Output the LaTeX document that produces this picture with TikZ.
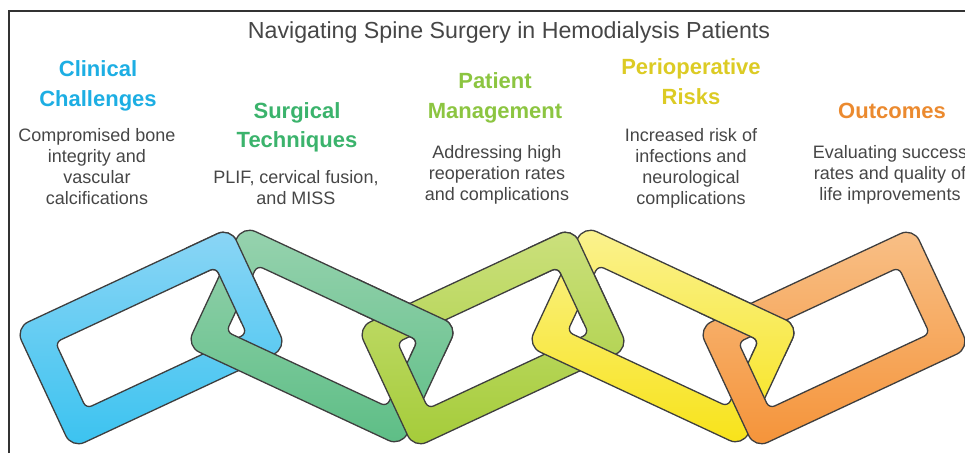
\documentclass[tikz,border=0pt]{standalone}
\usepackage{fontspec}
\setmainfont{Liberation Sans}
\definecolor{blueT}{HTML}{8AD5F5}\definecolor{blueB}{HTML}{3CC3F0}
\definecolor{greenT}{HTML}{96D2AE}\definecolor{greenB}{HTML}{5EBE86}
\definecolor{limeT}{HTML}{CBE07C}\definecolor{limeB}{HTML}{A5CC3A}
\definecolor{yelT}{HTML}{FAF28E}\definecolor{yelB}{HTML}{F8E31A}
\definecolor{orT}{HTML}{F8BF86}\definecolor{orB}{HTML}{F5943A}
\definecolor{hBlue}{HTML}{1DAEE3}\definecolor{hGreen}{HTML}{3BB36C}
\definecolor{hLime}{HTML}{8CC541}\definecolor{hYel}{HTML}{DCCB24}
\definecolor{hOr}{HTML}{EB8A2F}
\definecolor{ringgray}{HTML}{3E3E3E}\definecolor{bodygray}{HTML}{464646}
\definecolor{framegray}{HTML}{333333}
\tikzset{
  ringline/.style={draw=ringgray, line width=1.3pt},
  titletext/.style={font=\fontsize{23.2}{28}\selectfont, text=bodygray, anchor=base},
  headtext/.style={font=\bfseries\fontsize{22}{29.5}\selectfont, align=center, anchor=base},
  bodytext/.style={font=\fontsize{18}{20.8}\selectfont, text=bodygray, align=center, anchor=base},
  framestyle/.style={draw=framegray, line width=1.4pt}
}
\newcommand\drawlink[5]{%
  \begin{scope}[shift={(#1,#2)},rotate=#3,even odd rule,rounded corners=14pt]
    \clip (-118.5,-66.5) rectangle (118.5,66.5) [rounded corners=6pt] (-88.5,-36.5) rectangle (88.5,36.5);
    \shade[reset cm,top color=#4,bottom color=#5] (#1-131,#2-106) rectangle (#1+131,#2+106);
  \end{scope}
  \begin{scope}[shift={(#1,#2)},rotate=#3,rounded corners=14pt]
  \draw[ringline] (-118.5,-66.5) rectangle (118.5,66.5) [rounded corners=6pt] (-88.5,-36.5) rectangle (88.5,36.5);
  \end{scope}
}
\begin{document}
\begin{tikzpicture}[x=1pt,y=-1pt]
\useasboundingbox (0,0) rectangle (965,453);
% frame
\draw[framestyle] (9,453) -- (9,11) -- (965,11);
% chain links
\drawlink{151}{338}{25}{blueT}{blueB}
\drawlink{322}{336}{-25}{greenT}{greenB}
\drawlink{493}{338}{25}{limeT}{limeB}
\drawlink{663}{336}{-25}{yelT}{yelB}
\drawlink{834}{338}{25}{orT}{orB}
% left link on top at upper crossings
\begin{scope}\clip (186,200) rectangle (301,322);\drawlink{151}{338}{25}{blueT}{blueB}\end{scope}
\begin{scope}\clip (357,200) rectangle (472,355);\drawlink{322}{336}{-25}{greenT}{greenB}\end{scope}
\begin{scope}\clip (528,200) rectangle (643,322);\drawlink{493}{338}{25}{limeT}{limeB}\end{scope}
\begin{scope}\clip (698,200) rectangle (813,355);\drawlink{663}{336}{-25}{yelT}{yelB}\end{scope}
% texts (anchor base = baseline of the last line)
\node[titletext] (title) at (509,38.7) {Navigating Spine Surgery in Hemodialysis Patients};
\node[headtext,text=hBlue] (h1) at (98,106) {Clinical\\Challenges};
\node[bodytext] (b1) at (97,204) {Compromised bone\\integrity and\\vascular\\calcifications};
\node[headtext,text=hGreen] (h2) at (297,147.7) {Surgical\\Techniques};
\node[bodytext] (b2) at (296,204) {PLIF, cervical fusion,\\and MISS};
\node[headtext,text=hLime] (h3) at (495,118.3) {Patient\\Management};
\node[bodytext] (b3) at (497,200) {Addressing high\\reoperation rates\\and complications};
\node[headtext,text=hYel] (h4) at (691,104) {Perioperative\\Risks};
\node[bodytext] (b4) at (691,204) {Increased risk of\\infections and\\neurological\\complications};
\node[headtext,text=hOr] (h5) at (892,118.3) {Outcomes};
\node[bodytext] (b5) at (890,200) {Evaluating success\\rates and quality of\\life improvements};
\end{tikzpicture}
\end{document}
